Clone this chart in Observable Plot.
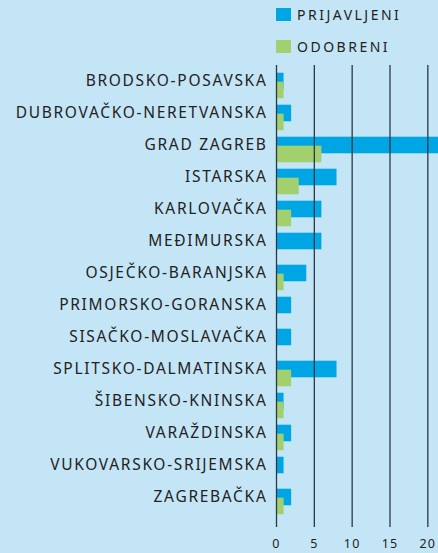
<!DOCTYPE html>
<html>
<head>
<meta charset="utf-8">
<script src="https://cdn.jsdelivr.net/npm/d3@7"></script>
<script src="https://cdn.jsdelivr.net/npm/@observablehq/plot@0.6"></script>
<style>
  html, body { margin: 0; padding: 0; background: #c4e5f6; }
  #wrap { position: relative; width: 438px; height: 553px; background: #c4e5f6; overflow: hidden; }
  #wrap svg { position: absolute; left: 0; top: 0; }
  #wrap svg g[aria-label="y-axis tick label"] text { letter-spacing: 1.7px; }
  #wrap svg g[aria-label="x-axis tick label"] text { letter-spacing: 1.2px; }
  .legend { position: absolute; left: 276px; font-family: "Noto Sans", sans-serif; font-size: 14px; letter-spacing: 2.5px; color: #222; display: flex; align-items: center; }
  .legend span.sw { display: inline-block; width: 15px; height: 13px; margin-right: 6px; }
</style>
</head>
<body>
<div id="wrap"></div>
<script>
const regions = [
  "BRODSKO-POSAVSKA",
  "DUBROVAČKO-NERETVANSKA",
  "GRAD ZAGREB",
  "ISTARSKA",
  "KARLOVAČKA",
  "MEĐIMURSKA",
  "OSJEČKO-BARANJSKA",
  "PRIMORSKO-GORANSKA",
  "SISAČKO-MOSLAVAČKA",
  "SPLITSKO-DALMATINSKA",
  "ŠIBENSKO-KNINSKA",
  "VARAŽDINSKA",
  "VUKOVARSKO-SRIJEMSKA",
  "ZAGREBAČKA"
];
const prijavljeni = [1, 2, 23, 8, 6, 6, 4, 2, 2, 8, 1, 2, 1, 2];
const odobreni    = [1, 1, 6, 3, 2, 0, 1, 0, 0, 2, 1, 1, 0, 1];
const xTicks = [0, 5, 10, 15, 20];
const seriesNames = ["PRIJAVLJENI", "ODOBRENI"];
const colors = ["#00a5e3", "#a2d06e"];

const blueData = regions.map((r, i) => ({region: r, value: prijavljeni[i]}));
const greenData = regions.map((r, i) => ({region: r, value: odobreni[i]}));

const chart = Plot.plot({
  width: 438,
  height: 553,
  marginLeft: 276,
  marginRight: 0,
  marginTop: 65,
  marginBottom: 26,
  style: {background: "transparent", fontFamily: "'Noto Sans', sans-serif", color: "#222"},
  x: {domain: [0, 21.41], ticks: xTicks, tickSize: 0, tickPadding: 12, label: null},
  y: {type: "band", domain: regions, range: [64.25, 513.65], padding: 0, label: null},
  marks: [
    Plot.barX(blueData, {x: "value", y: "region", fill: colors[0], insetTop: 7.7, insetBottom: 7.7, clip: true}),
    Plot.barX(greenData, {x: "value", y: "region", fill: colors[1], insetTop: 7.7, insetBottom: 7.7, dy: 9, clip: true}),
    Plot.ruleX(xTicks, {stroke: "#2b3a42", strokeWidth: 1.3}),
    Plot.axisY({tickSize: 0, tickPadding: 9, fontSize: 15.5, label: null, fill: "#222"}),
    Plot.axisX({ticks: xTicks, tickSize: 0, tickPadding: 12, fontSize: 12.5, label: null, fill: "#222"})
  ]
});
const wrap = document.getElementById("wrap");
wrap.appendChild(chart);

const tops = [8, 40];
seriesNames.forEach((name, i) => {
  const d = document.createElement("div");
  d.className = "legend";
  d.style.top = (tops[i] - 2) + "px";
  d.style.height = "17px";
  const sw = document.createElement("span");
  sw.className = "sw";
  sw.style.background = colors[i];
  d.appendChild(sw);
  d.appendChild(document.createTextNode(name));
  wrap.appendChild(d);
});
</script>
</body>
</html>
